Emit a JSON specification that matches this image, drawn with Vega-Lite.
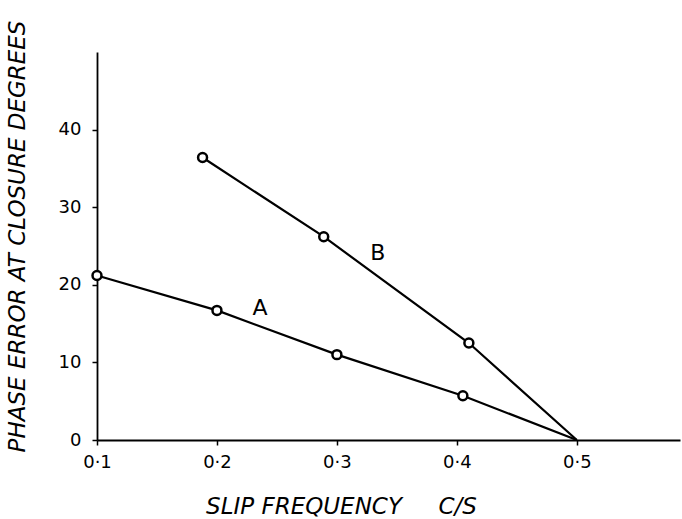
{
  "$schema": "https://vega.github.io/schema/vega-lite/v6.json",
  "autosize": "none",
  "width": 583,
  "height": 388,
  "padding": {"left": 97, "top": 52, "right": 2, "bottom": 79},
  "background": "white",
  "config": {
    "view": {"stroke": null},
    "font": "DejaVu Sans"
  },
  "datasets": {
    "pts": [
      {"series": "A", "slip": 0.1, "phase": 21.2, "marker": true},
      {"series": "A", "slip": 0.2, "phase": 16.7, "marker": true},
      {"series": "A", "slip": 0.3, "phase": 11.0, "marker": true},
      {"series": "A", "slip": 0.405, "phase": 5.7, "marker": true},
      {"series": "A", "slip": 0.5, "phase": 0, "marker": false},
      {"series": "B", "slip": 0.188, "phase": 36.4, "marker": true},
      {"series": "B", "slip": 0.289, "phase": 26.2, "marker": true},
      {"series": "B", "slip": 0.41, "phase": 12.5, "marker": true},
      {"series": "B", "slip": 0.5, "phase": 0, "marker": false}
    ],
    "labels": [
      {"series": "A", "slip": 0.236, "phase": 17.0},
      {"series": "B", "slip": 0.334, "phase": 24.1}
    ]
  },
  "encoding": {
    "x": {
      "field": "slip",
      "type": "quantitative",
      "scale": {"domain": [0.1, 0.586], "nice": false, "zero": false},
      "axis": {
        "values": [0.1, 0.2, 0.3, 0.4, 0.5],
        "labelExpr": "replace(format(datum.value, '.1f'), '.', '·')",
        "title": "SLIP FREQUENCY\u00a0\u00a0\u00a0\u00a0\u00a0C/S",
        "titleFont": "DejaVu Sans",
        "titleFontStyle": "italic",
        "titleFontWeight": "normal",
        "titleFontSize": 23,
        "titleColor": "black",
        "titleX": 244,
        "titleY": 66,
        "titleAlign": "center",
        "titleBaseline": "middle",
        "grid": false,
        "domainColor": "black",
        "domainWidth": 1.8,
        "tickColor": "black",
        "tickWidth": 1.5,
        "tickSize": 5,
        "labelPadding": 8,
        "labelFontSize": 18,
        "labelColor": "black",
        "labelFlush": false
      }
    },
    "y": {
      "field": "phase",
      "type": "quantitative",
      "scale": {"domain": [0, 50], "nice": false},
      "axis": {
        "values": [0, 10, 20, 30, 40],
        "title": "PHASE ERROR AT CLOSURE DEGREES",
        "titleFont": "DejaVu Sans",
        "titleFontStyle": "italic",
        "titleFontWeight": "normal",
        "titleFontSize": 23,
        "titleColor": "black",
        "titleAngle": 270,
        "titleX": -80,
        "titleY": 184,
        "titleAlign": "center",
        "titleBaseline": "middle",
        "grid": false,
        "domainColor": "black",
        "domainWidth": 1.8,
        "tickColor": "black",
        "tickWidth": 1.5,
        "tickSize": 5,
        "labelPadding": 11,
        "labelFontSize": 18,
        "labelColor": "black",
        "labelFlush": false
      }
    }
  },
  "layer": [
    {
      "data": {"name": "pts"},
      "mark": {"type": "line", "color": "black", "strokeWidth": 2.2},
      "encoding": {"detail": {"field": "series"}, "order": {"field": "slip"}}
    },
    {
      "data": {"name": "pts"},
      "transform": [{"filter": "datum.marker"}],
      "mark": {"type": "point", "shape": "circle", "filled": true, "fill": "white", "stroke": "black", "strokeWidth": 2.5, "size": 80, "opacity": 1}
    },
    {
      "data": {"name": "labels"},
      "mark": {"type": "text", "fontSize": 22, "font": "DejaVu Sans", "color": "black", "align": "center", "baseline": "middle"},
      "encoding": {"text": {"field": "series"}}
    }
  ]
}
